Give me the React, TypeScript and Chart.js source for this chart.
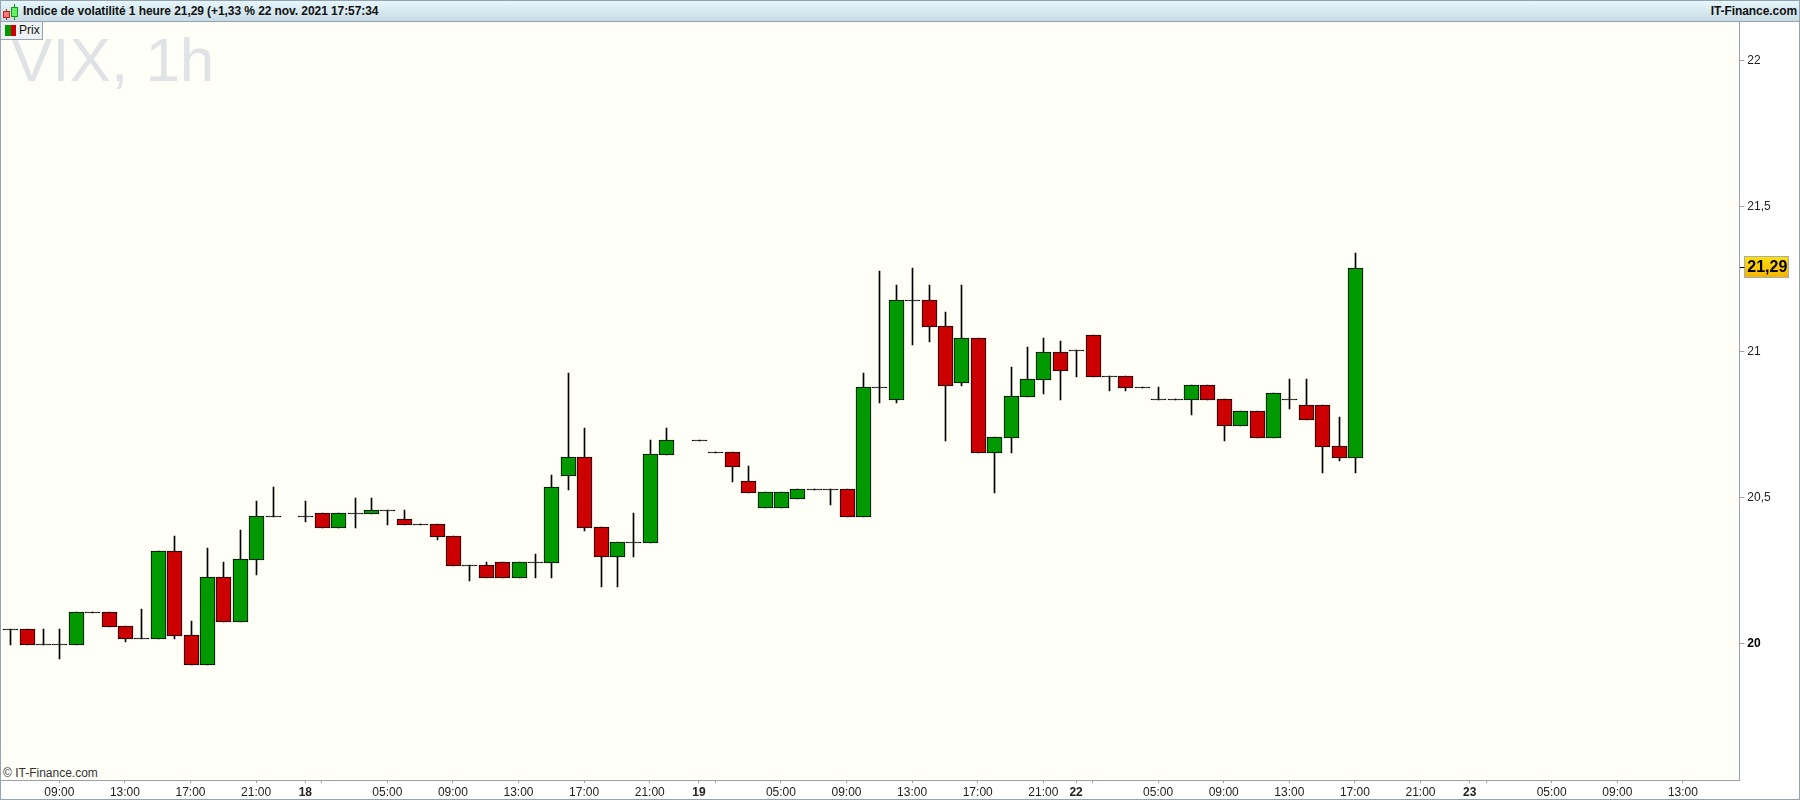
import React, { useEffect, useRef } from "react";
import { Chart, registerables } from "chart.js";

Chart.register(...registerables);

const headerTitle = "Indice de volatilité 1 heure 21,29 (+1,33 % 22 nov. 2021 17:57:34";
const headerBrand = "IT-Finance.com";
const watermark = "VIX, 1h";
const legendLabel = "Prix";
const copyright = "© IT-Finance.com";

const lastPrice = 21.29;
const priceTicks = [20, 20.5, 21, 21.29, 21.5, 22];

// One slot per hour; empty slots carry no label.
const slotLabels: string[] = [
  "", "", "", "09:00", "", "", "", "13:00", "", "", "", "17:00", "", "", "", "21:00", "", "",
  "18", "", "", "", "", "05:00", "", "", "", "09:00", "", "", "", "13:00", "", "", "", "17:00", "", "", "", "21:00", "", "",
  "19", "", "", "", "", "05:00", "", "", "", "09:00", "", "", "", "13:00", "", "", "", "17:00", "", "", "", "21:00", "",
  "22", "", "", "", "", "05:00", "", "", "", "09:00", "", "", "", "13:00", "", "", "", "17:00", "", "", "", "21:00", "", "",
  "23", "", "", "", "", "05:00", "", "", "", "09:00", "", "", "", "13:00", "", "", "",
];
const dayLabels = ["18", "19", "22", "23"];
const unlabelledTickSlots = [19, 43, 66, 90];

const opens: (number | null)[] = [
  20.05, 20.05, 20.0, 20.0, 20.0, 20.11, 20.11, 20.06, 20.02, 20.02,
  20.32, 20.03, 19.93, 20.23, 20.08, 20.29, 20.44, null, 20.44, 20.45,
  20.4, 20.45, 20.45, 20.46, 20.43, 20.41, 20.41, 20.37, 20.27, 20.27,
  20.28, 20.23, 20.28, 20.28, 20.58, 20.64, 20.4, 20.3, 20.35, 20.35,
  20.65, null, 20.7, 20.66, 20.66, 20.56, 20.47, 20.47, 20.5, 20.53,
  20.53, 20.53, 20.44, 20.88, 20.84, 21.18, 21.18, 21.09, 20.9, 21.05,
  20.66, 20.71, 20.85, 20.91, 21.0, 21.01, 21.06, 20.92, 20.92, 20.88,
  20.84, 20.84, 20.84, 20.89, 20.84, 20.75, 20.8, 20.71, 20.84, 20.82,
  20.82, 20.68, 20.64,
];
const closes: (number | null)[] = [
  20.05, 20.0, 20.0, 20.0, 20.11, 20.11, 20.06, 20.02, 20.02, 20.32,
  20.03, 19.93, 20.23, 20.08, 20.29, 20.44, 20.44, null, 20.44, 20.4,
  20.45, 20.45, 20.46, 20.46, 20.41, 20.41, 20.37, 20.27, 20.27, 20.23,
  20.23, 20.28, 20.28, 20.54, 20.64, 20.4, 20.3, 20.35, 20.35, 20.65,
  20.7, null, 20.7, 20.66, 20.61, 20.52, 20.52, 20.52, 20.53, 20.53,
  20.53, 20.44, 20.88, 20.88, 21.18, 21.18, 21.09, 20.89, 21.05, 20.66,
  20.71, 20.85, 20.91, 21.0, 20.94, 21.01, 20.92, 20.92, 20.88, 20.88,
  20.84, 20.84, 20.89, 20.84, 20.75, 20.8, 20.71, 20.86, 20.84, 20.77,
  20.68, 20.64, 21.29,
];
const highs: (number | null)[] = [
  20.05, 20.05, 20.05, 20.05, 20.11, 20.11, 20.11, 20.06, 20.12, 20.32,
  20.37, 20.08, 20.33, 20.28, 20.39, 20.49, 20.54, null, 20.49, 20.45,
  20.45, 20.5, 20.5, 20.46, 20.46, 20.41, 20.41, 20.37, 20.27, 20.28,
  20.28, 20.28, 20.31, 20.58, 20.93, 20.74, 20.4, 20.35, 20.45, 20.7,
  20.74, null, 20.7, 20.66, 20.66, 20.61, 20.52, 20.52, 20.53, 20.53,
  20.53, 20.53, 20.93, 21.28, 21.23, 21.29, 21.23, 21.14, 21.23, 21.05,
  20.71, 20.95, 21.02, 21.05, 21.04, 21.01, 21.06, 20.92, 20.92, 20.88,
  20.88, 20.84, 20.89, 20.89, 20.84, 20.8, 20.8, 20.86, 20.91, 20.91,
  20.82, 20.78, 21.34,
];
const lows: (number | null)[] = [
  20.0, 20.0, 20.0, 19.95, 20.0, 20.11, 20.06, 20.01, 20.02, 20.02,
  20.02, 19.93, 19.93, 20.08, 20.08, 20.24, 20.44, null, 20.42, 20.4,
  20.4, 20.4, 20.45, 20.41, 20.41, 20.41, 20.36, 20.27, 20.22, 20.23,
  20.23, 20.23, 20.23, 20.23, 20.53, 20.39, 20.2, 20.2, 20.3, 20.35,
  20.65, null, 20.7, 20.66, 20.56, 20.52, 20.47, 20.47, 20.5, 20.53,
  20.48, 20.44, 20.44, 20.83, 20.83, 21.03, 21.04, 20.7, 20.89, 20.66,
  20.52, 20.66, 20.85, 20.86, 20.84, 20.92, 20.92, 20.87, 20.87, 20.88,
  20.84, 20.84, 20.79, 20.84, 20.7, 20.75, 20.71, 20.71, 20.81, 20.77,
  20.59, 20.63, 20.59,
];

const upColor = "#009900";
const downColor = "#cc0000";
const inkColor = "#000000";
const frameColor = "#94a3ae";
const plotColor = "#fffff8";
const textColor = "#222222";
const fontFamily = '"Liberation Sans", Arial, sans-serif';

const snapBars = {
  id: "snapBars",
  beforeDatasetsDraw(chart: any) {
    chart.getSortedVisibleDatasetMetas().forEach((meta: any) => {
      meta.data.forEach((el: any) => {
        if (el.skip || !Number.isFinite(el.y) || el.$snapped) return;
        el.$snapped = true;
        el.x = Math.round(el.x) + 0.5;
        const top = Math.round(el.y + 0.5);
        const raw = Math.round(el.base + 0.5);
        const bottom = raw <= top ? top + 1 : raw + 1;
        el.y = top;
        el.base = bottom;
        el.height = bottom - top;
      });
    });
  },
};

const priceTag = {
  id: "priceTag",
  beforeDraw(chart: any) {
    const { ctx, scales } = chart;
    const py = scales.y.getPixelForValue(lastPrice);
    const top = Math.round(py) - 10.5;
    const g = ctx.createLinearGradient(0, top, 0, top + 21);
    g.addColorStop(0, "#ffdf10");
    g.addColorStop(1, "#f3b400");
    ctx.save();
    ctx.fillStyle = g;
    ctx.fillRect(1744.5, top, 44, 21);
    ctx.strokeStyle = "#a3adb5";
    ctx.lineWidth = 1;
    ctx.strokeRect(1744.5, top, 44, 21);
    ctx.restore();
  },
};

export default function App() {
  const ref = useRef<HTMLCanvasElement>(null);

  useEffect(() => {
    document.body.style.margin = "0";
    const keptSlots = new Set<number>(unlabelledTickSlots);
    slotLabels.forEach((l, i) => {
      if (l) keptSlots.add(i);
    });
    const isFlat = (i: number) => opens[i] !== null && opens[i] === closes[i];
    const chart = new Chart(ref.current as HTMLCanvasElement, {
      type: "bar",
      data: {
        labels: slotLabels.map((_, i) => String(i)),
        datasets: [
          {
            label: "Prix",
            data: opens.map((o, i) => (o === null ? null : [o, closes[i]])) as any,
            barThickness: 15,
            borderWidth: 1,
            borderSkipped: false,
            borderColor: inkColor,
            backgroundColor: opens.map((o, i) =>
              isFlat(i) ? inkColor : (closes[i] as number) > (o as number) ? upColor : downColor
            ),
          },
          {
            label: "Mèches",
            data: highs.map((h, i) => (h === null ? null : [lows[i], h])) as any,
            barThickness: 1,
            borderWidth: 0,
            backgroundColor: inkColor,
          },
        ],
      },
      options: {
        responsive: false,
        animation: false,
        devicePixelRatio: 1,
        datasets: { bar: { grouped: false } },
        layout: { padding: { top: 22, left: 1.93, right: 0, bottom: 0 } },
        plugins: { legend: { display: false }, title: { display: false }, tooltip: { enabled: false } },
        scales: {
          x: {
            type: "category",
            offset: true,
            afterBuildTicks: (scale: any) => {
              scale.ticks = scale.ticks.filter((t: any) => keptSlots.has(t.value));
            },
            afterFit: (scale: any) => {
              scale.height = 20;
            },
            border: { display: false },
            grid: { offset: false, drawOnChartArea: false, tickLength: 3, color: frameColor },
            ticks: {
              autoSkip: false,
              maxRotation: 0,
              minRotation: 0,
              padding: 2,
              color: textColor,
              callback: (value: any) => slotLabels[value as number],
              font: (ctx: any) => ({
                family: fontFamily,
                size: 12,
                weight: ctx.tick && dayLabels.includes(slotLabels[ctx.tick.value]) ? "bold" : "normal",
              }),
            },
          },
          y: {
            type: "linear",
            position: "right",
            min: 19.531,
            max: 22.1325,
            afterBuildTicks: (scale: any) => {
              scale.ticks = priceTicks.map((value) => ({ value }));
            },
            afterFit: (scale: any) => {
              scale.width = 59.7;
            },
            border: { display: false },
            grid: {
              drawOnChartArea: false,
              tickLength: 4,
              color: (ctx: any) => (ctx.tick && ctx.tick.value === lastPrice ? inkColor : frameColor),
            },
            ticks: {
              autoSkip: false,
              padding: 3,
              color: (ctx: any) => (ctx.tick && (ctx.tick.value === lastPrice || ctx.tick.value === 20) ? "#000000" : textColor),
              callback: (value: any) => String(value).replace(".", ","),
              font: (ctx: any) => {
                const v = ctx.tick ? ctx.tick.value : 0;
                return {
                  family: fontFamily,
                  size: v === lastPrice ? 16 : 12,
                  weight: v === lastPrice || v === 20 ? "bold" : "normal",
                };
              },
            },
          },
        },
      } as any,
      plugins: [snapBars, priceTag],
    });
    return () => chart.destroy();
  }, []);

  const abs = (o: React.CSSProperties): React.CSSProperties => ({ position: "absolute", ...o });

  return (
    <div
      style={{
        position: "relative",
        width: 1800,
        height: 800,
        overflow: "hidden",
        background: "#ffffff",
        fontFamily,
        boxSizing: "border-box",
      }}
    >
      <div
        style={abs({
          left: 1,
          top: 22,
          width: 1738,
          height: 758,
          background: plotColor,
          borderRight: `1px solid ${frameColor}`,
          borderBottom: `1px solid ${frameColor}`,
        })}
      />
      <div
        style={abs({
          left: 11,
          top: 29,
          fontSize: 62,
          lineHeight: "62px",
          color: "#dfe3e6",
          whiteSpace: "pre",
        })}
      >
        {watermark}
      </div>
      <div style={abs({ left: 3, top: 766, fontSize: 12, lineHeight: "14px", color: "#333333" })}>{copyright}</div>
      <canvas ref={ref} width={1800} height={800} style={abs({ left: 0, top: 0, display: "block" })} />
      <div
        style={abs({
          left: 0,
          top: 0,
          width: 1800,
          height: 22,
          boxSizing: "border-box",
          borderTop: `1px solid ${frameColor}`,
          borderBottom: `1px solid ${frameColor}`,
          background: "linear-gradient(#e6f6fc,#c8dbe4)",
          fontSize: 12,
          fontWeight: "bold",
          color: "#111111",
          lineHeight: "21px",
        })}
      >
        <span style={abs({ left: 23, top: 0, whiteSpace: "pre", letterSpacing: "-0.075px" })}>{headerTitle}</span>
        <span style={abs({ right: 3, top: 0, letterSpacing: "-0.075px" })}>{headerBrand}</span>
        <div style={abs({ left: 6, top: 8, width: 1, height: 11, background: "#aa2222" })} />
        <div
          style={abs({ left: 3, top: 10, width: 5, height: 5, background: "#f77777", border: "1px solid #bb2222" })}
        />
        <div style={abs({ left: 14, top: 3, width: 1, height: 16, background: "#119911" })} />
        <div
          style={abs({ left: 11, top: 6, width: 5, height: 8, background: "#66ee66", border: "1px solid #119911" })}
        />
      </div>
      <div
        style={abs({
          left: 0,
          top: 22,
          width: 43,
          height: 18,
          boxSizing: "border-box",
          background: "#eef2f5",
          borderRight: `1px solid ${frameColor}`,
          borderBottom: `1px solid ${frameColor}`,
          fontSize: 12,
          lineHeight: "17px",
          color: "#111111",
        })}
      >
        <div style={abs({ left: 5, top: 3, width: 6, height: 11, background: upColor })} />
        <div style={abs({ left: 11, top: 3, width: 5, height: 11, background: downColor })} />
        <span style={abs({ left: 19, top: 0 })}>{legendLabel}</span>
      </div>
      <div style={abs({ left: 0, top: 0, width: 1, height: 800, background: frameColor })} />
      <div style={abs({ left: 1799, top: 0, width: 1, height: 800, background: frameColor })} />
      <div style={abs({ left: 0, top: 799, width: 1800, height: 1, background: frameColor })} />
    </div>
  );
}
